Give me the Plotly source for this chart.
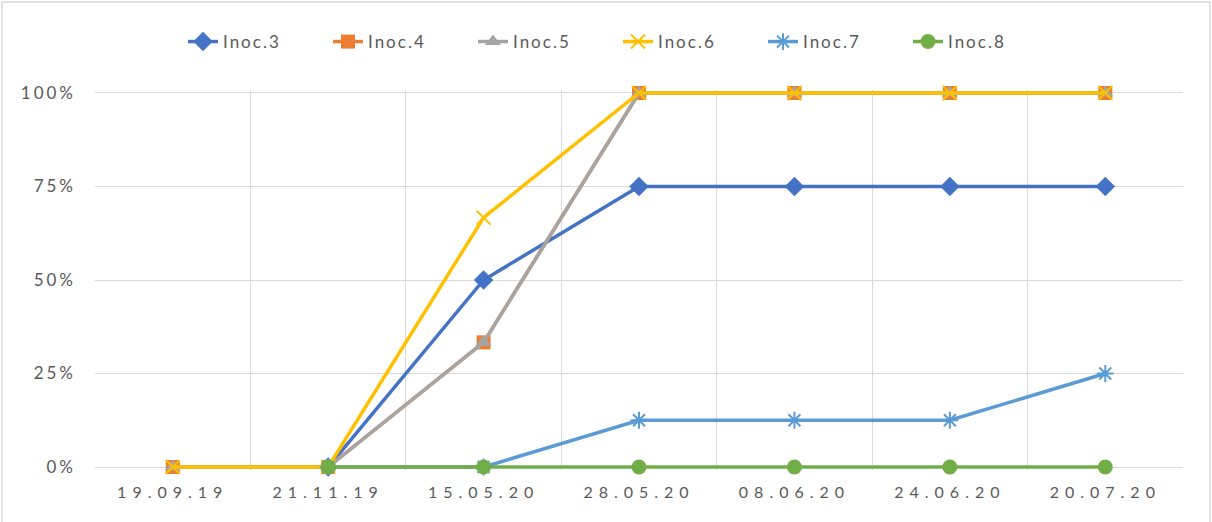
import plotly.graph_objects as go

dates = ["19.09.19", "21.11.19", "15.05.20", "28.05.20", "08.06.20", "24.06.20", "20.07.20"]

inoc3 = [None, 0, 0.50, 0.75, 0.75, 0.75, 0.75]
inoc4 = [0, 0, 1/3, 1.0, 1.0, 1.0, 1.0]
inoc5 = [0, 0, 1/3, 1.0, 1.0, 1.0, 1.0]
inoc6 = [0, 0, 2/3, 1.0, 1.0, 1.0, 1.0]
inoc7 = [None, 0, 0, 0.125, 0.125, 0.125, 0.25]
inoc8 = [None, 0, 0, 0, 0, 0, 0]

y_ticks = [0, 0.25, 0.5, 0.75, 1.0]

series = [
    ("Inoc.3", inoc3, "#4472C4", dict(symbol="diamond", size=15)),
    ("Inoc.4", inoc4, "#ED7D31", dict(symbol="square", size=14)),
    ("Inoc.5", inoc5, "#A5A5A5", dict(symbol="triangle-up", size=14)),
    ("Inoc.6", inoc6, "#FFC000", dict(symbol="x-thin", size=14, line=dict(width=2, color="#FFC000"))),
    ("Inoc.7", inoc7, "#5B9BD5", dict(symbol="asterisk", size=14, line=dict(width=2, color="#5B9BD5"))),
    ("Inoc.8", inoc8, "#70AD47", dict(symbol="circle", size=15)),
]

xpos = list(range(len(dates)))

fig = go.Figure()
for name, vals, color, marker in series:
    fig.add_trace(go.Scatter(
        x=xpos, y=vals, mode="lines+markers",
        name=f'<span style="letter-spacing:2px">{name}</span>',
        line=dict(color=color, width=3.5),
        marker=dict(color=color, **marker),
        connectgaps=False, cliponaxis=False,
    ))

grid = "#D9D9D9"
text_color = "#595959"

# small padding so lines lying on 0% and 100% are not half clipped
pad = 0.008
L, R = 95, 29
T, B = 93 - round(pad * 374), 55 - round(pad * 374)
pw, ph = 1212 - L - R, 522 - T - B


def px_to_paper_y(py):
    return (522 - B - py) / ph


fig.update_layout(
    width=1212, height=522,
    margin=dict(l=L, r=R, t=T, b=B, autoexpand=False),
    paper_bgcolor="white", plot_bgcolor="white",
    font=dict(family="Lato, Liberation Sans, sans-serif", color=text_color, size=16),
    showlegend=True,
    legend=dict(orientation="h", x=(183 - L) / pw, xanchor="left",
                y=px_to_paper_y(42), yanchor="middle",
                font=dict(size=17, color=text_color),
                entrywidth=100, entrywidthmode="pixels", tracegroupgap=0),
    xaxis=dict(
        range=[-0.5, 6.5],
        tickmode="array", tickvals=xpos,
        ticktext=[f'<span style="letter-spacing:6px">{d}</span>' for d in dates],
        showgrid=False, zeroline=False, ticks="", showline=False,
        tickfont=dict(size=16, color=text_color), ticklabelstandoff=11,
        minor=dict(tickmode="array", tickvals=[i - 0.5 for i in range(len(dates) + 1)],
                   showgrid=True, gridcolor=grid, gridwidth=1, ticks=""),
    ),
    yaxis=dict(
        range=[-pad, 1 + pad], tickmode="array", tickvals=y_ticks,
        ticktext=[f'<span style="letter-spacing:3px">{v:.0%}</span>' for v in y_ticks],
        showgrid=True, gridcolor=grid, gridwidth=1,
        zeroline=False, showline=False, ticks="",
        tickfont=dict(size=17, color=text_color), ticklabelstandoff=18,
    ),
    shapes=[dict(type="rect", xref="paper", yref="paper",
                 x0=(2 - L) / pw, x1=(1210 - L) / pw,
                 y0=px_to_paper_y(540), y1=px_to_paper_y(2),
                 line=dict(color=grid, width=1.5), fillcolor="rgba(0,0,0,0)", layer="below")],
)

fig.write_html("out.html")
